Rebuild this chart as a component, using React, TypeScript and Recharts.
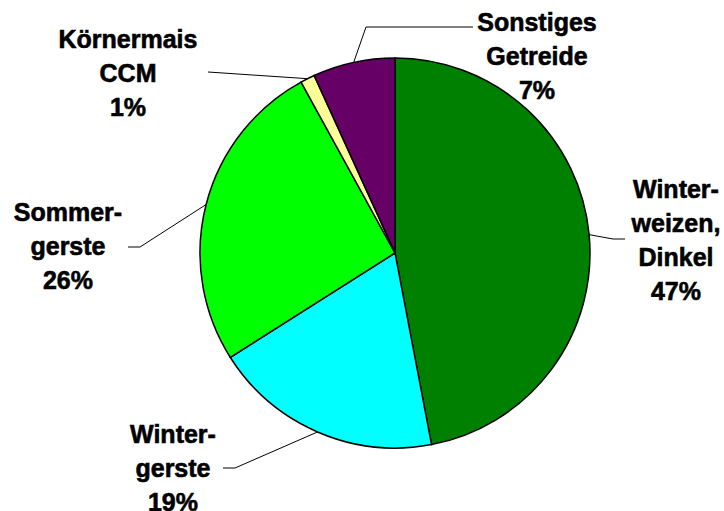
import React from "react";
import { PieChart, Pie, Cell } from "recharts";

// Anteile der Getreidearten (im Uhrzeigersinn ab 12 Uhr)
const categories = [
  "Winter-\nweizen,\nDinkel",
  "Winter-\ngerste",
  "Sommer-\ngerste",
  "Körnermais\nCCM",
  "Sonstiges\nGetreide",
];
const shares = [47, 19, 26, 1.2, 6.8];
const percentLabels = ["47%", "19%", "26%", "1%", "7%"];

const colors = ["#008000", "#00FFFF", "#00FF00", "#FFFF99", "#660066"];

const data = categories.map((name, i) => ({
  name,
  value: shares[i],
  pct: percentLabels[i],
}));

// Position der Beschriftung + Knickpunkte der Führungslinie
const labelLayout = [
  { tx: 676, ty: 198, bend: [[613, 239], [625, 239]] },
  { tx: 173, ty: 443, bend: [[235, 468], [223, 468]] },
  { tx: 68, ty: 221, bend: [[140, 247], [128, 247]] },
  { tx: 128, ty: 48, bend: [[208, 72]] },
  { tx: 537, ty: 31, bend: [[366, 27], [473, 27]] },
];

const RADIAN = Math.PI / 180;
const LINE_H = 34;

const renderLabel = (props: any) => {
  const { cx, cy, midAngle, outerRadius, index } = props;
  const lay = labelLayout[index];
  const sx = cx + outerRadius * Math.cos(-midAngle * RADIAN);
  const sy = cy + outerRadius * Math.sin(-midAngle * RADIAN);
  const pts = [[sx, sy], ...lay.bend];
  const d = pts.map((p, i) => `${i === 0 ? "M" : "L"}${p[0]},${p[1]}`).join(" ");
  const lines = [...categories[index].split("\n"), percentLabels[index]];
  return (
    <g>
      <path d={d} stroke="#000" strokeWidth={1} fill="none" />
      <text
        x={lay.tx}
        y={lay.ty}
        textAnchor="middle"
        fill="#000"
        stroke="#000"
        strokeWidth={0.6}
        fontFamily="'Liberation Sans', Arial, sans-serif"
        fontWeight="bold"
        fontSize={25}
      >
        {lines.map((l, i) => (
          <tspan key={i} x={lay.tx} y={lay.ty + i * LINE_H}>
            {l}
          </tspan>
        ))}
      </text>
    </g>
  );
};

export default function App() {
  return (
    <div style={{ position: "absolute", left: 0, top: 0, background: "#fff" }}>
      <PieChart width={724} height={511} margin={{ top: 0, right: 0, bottom: 0, left: 0 }}>
        <Pie
          data={data}
          dataKey="value"
          nameKey="name"
          cx={395}
          cy={253}
          outerRadius={195}
          startAngle={90}
          endAngle={-270}
          stroke="#000"
          strokeWidth={1.5}
          label={renderLabel}
          labelLine={false}
          isAnimationActive={false}
        >
          {data.map((d, i) => (
            <Cell key={d.name} fill={colors[i]} />
          ))}
        </Pie>
      </PieChart>
    </div>
  );
}
